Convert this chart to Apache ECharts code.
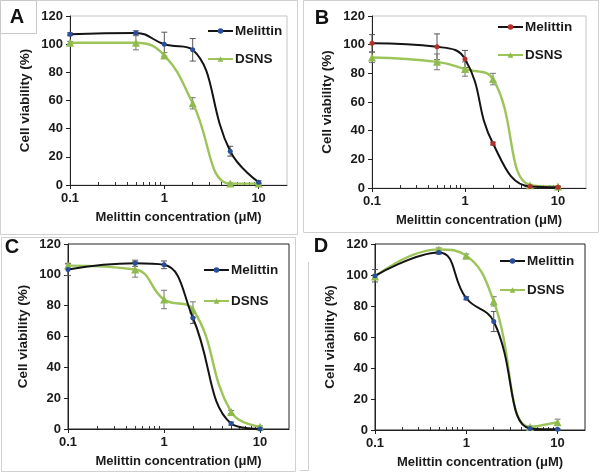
<!DOCTYPE html>
<html>
<head>
<meta charset="utf-8">
<script src="https://cdn.jsdelivr.net/npm/echarts@6/dist/echarts.min.js"></script>
<style>
html,body{margin:0;padding:0;background:#fff;}
#c{width:600px;height:476px;}
</style>
</head>
<body>
<div id="c"></div>
<script>
// ---- data ----
const conc = [0.1, 0.5, 1, 2, 5, 10];
const xTicks = [0.1, 1, 10];
const minorTicks = [0.2, 0.3, 0.4, 0.5, 0.6, 0.7, 0.8, 0.9, 2, 3, 4, 5, 6, 7, 8, 9];
const yTicks = [0, 20, 40, 60, 80, 100, 120];

const A_mel = [107, 108, 100, 96, 24, 2];
const A_melErr = [1, 1.5, 8.5, 8, 3.5, 1];
const A_dsns = [101, 101, 92, 58, 1, 1];
const A_dsnsErr = [1, 5, 2, 4, 0.5, 0.5];

const B_mel = [101, 98.5, 90, 31, 1, 0.5];
const B_melErr = [6, 9, 6, 1, 0.5, 0.5];
const B_dsns = [91, 88, 83, 76, 2, 1];
const B_dsnsErr = [3.5, 5.5, 5, 4, 0.5, 0.5];

const C_mel = [103.5, 107.5, 106.5, 72, 3.5, 0];
const C_melErr = [4, 2, 2.5, 3.5, 1, 0];
const C_dsns = [106, 103.5, 84, 77.5, 11, 1.5];
const C_dsnsErr = [1, 5, 6, 5, 1, 0.5];

const D_mel = [99.5, 114.5, 85, 70, 1, 0.5];
const D_melErr = [4, 1, 1, 6.5, 0.5, 0.5];
const D_dsns = [99, 116.5, 112.5, 83, 2, 5];
const D_dsnsErr = [1, 1, 1, 3, 0.5, 2];

const seriesNames = ['Melittin', 'DSNS'];
const xTitle = 'Melittin concentration (\u03bcM)';
const yTitle = 'Cell viability (%)';

// ---- layout / style ----
const panels = [
  {id: 'A', mel: A_mel, melErr: A_melErr, dsns: A_dsns, dsnsErr: A_dsnsErr,
   grid: {left: 70, top: 16, width: 217, height: 169}, frame: '#c4c4c4', melMarker: '#2a4f9a',
   legend: {left: 207, top: 24, gap: 14}},
  {id: 'B', mel: B_mel, melErr: B_melErr, dsns: B_dsns, dsnsErr: B_dsnsErr,
   grid: {left: 372, top: 16, width: 214, height: 172}, frame: '#c4c4c4', melMarker: '#b8302a',
   legend: {left: 497, top: 20, gap: 14}},
  {id: 'C', mel: C_mel, melErr: C_melErr, dsns: C_dsns, dsnsErr: C_dsnsErr,
   grid: {left: 68, top: 244, width: 221, height: 185}, frame: '#222', melMarker: '#2a4f9a',
   legend: {left: 203, top: 263, gap: 17}},
  {id: 'D', mel: D_mel, melErr: D_melErr, dsns: D_dsns, dsnsErr: D_dsnsErr,
   grid: {left: 375, top: 244, width: 210, height: 186}, frame: '#222', melMarker: '#2a4f9a',
   legend: {left: 499, top: 254, gap: 15}}
];

const FONT = 'Liberation Sans, Arial, sans-serif';
const TXT = '#1a1a1a';
const GREEN = '#9cc45a';
const GREEN_M = '#8fbb4c';

const grids = [], xAxes = [], yAxes = [], series = [], legends = [];

function errSeries(xi, yi, vals, errs, color) {
  return {
    type: 'custom', xAxisIndex: xi, yAxisIndex: yi, silent: true, z: 1,
    data: conc.map((c, i) => [c, vals[i] - errs[i], vals[i] + errs[i]]),
    renderItem: function (params, api) {
      const lo = api.coord([api.value(0), api.value(1)]);
      const hi = api.coord([api.value(0), api.value(2)]);
      const w = 3;
      const st = {stroke: color, lineWidth: 1};
      return {type: 'group', children: [
        {type: 'line', shape: {x1: lo[0], y1: lo[1], x2: hi[0], y2: hi[1]}, style: st},
        {type: 'line', shape: {x1: lo[0] - w, y1: lo[1], x2: lo[0] + w, y2: lo[1]}, style: st},
        {type: 'line', shape: {x1: hi[0] - w, y1: hi[1], x2: hi[0] + w, y2: hi[1]}, style: st}
      ]};
    }
  };
}

panels.forEach((p, k) => {
  grids.push(Object.assign({show: true, borderColor: p.frame, borderWidth: 1, backgroundColor: 'transparent'}, p.grid));
  const xMain = xAxes.length;
  xAxes.push({
    type: 'log', logBase: 10, gridIndex: k, min: 0.1, max: 20, position: 'bottom',
    name: xTitle, nameLocation: 'middle', nameGap: 26,
    nameTextStyle: {fontFamily: FONT, fontWeight: 'bold', fontSize: 13, color: TXT},
    axisLine: {show: true, onZero: false, lineStyle: {color: '#222', width: 1}},
    axisTick: {show: true, inside: false, length: 4, customValues: xTicks, lineStyle: {color: '#222'}},
    axisLabel: {show: true, customValues: xTicks, margin: 7, fontFamily: FONT, fontWeight: 'bold', fontSize: 13, color: TXT,
      formatter: v => String(Math.round(v * 10) / 10)},
    splitLine: {show: false}
  });
  // minor ticks axis (decorative)
  xAxes.push({
    type: 'log', logBase: 10, gridIndex: k, min: 0.1, max: 20, position: 'bottom',
    axisLine: {show: false},
    axisTick: {show: true, inside: true, length: 3, customValues: minorTicks, lineStyle: {color: '#333'}},
    axisLabel: {show: false}, splitLine: {show: false}
  });
  const yMain = yAxes.length;
  yAxes.push({
    type: 'value', gridIndex: k, min: 0, max: 120, interval: 20,
    name: yTitle, nameLocation: 'middle', nameGap: 38,
    nameTextStyle: {fontFamily: FONT, fontWeight: 'bold', fontSize: 13.5, color: TXT},
    axisLine: {show: true, lineStyle: {color: '#222', width: 1}},
    axisTick: {show: true, inside: false, length: 4, lineStyle: {color: '#222'}},
    axisLabel: {show: true, margin: 7, fontFamily: FONT, fontWeight: 'bold', fontSize: 13, color: TXT,
      customValues: yTicks},
    splitLine: {show: false}
  });
  const nMel = p.id + '|' + seriesNames[0];
  const nDs = p.id + '|' + seriesNames[1];
  series.push(errSeries(xMain, yMain, p.mel, p.melErr, '#555'));
  series.push(errSeries(xMain, yMain, p.dsns, p.dsnsErr, '#777'));
  series.push({
    name: nDs, type: 'line', xAxisIndex: xMain, yAxisIndex: yMain, smooth: 0.45,
    data: conc.map((c, i) => [c, p.dsns[i]]),
    symbol: 'triangle', symbolSize: 8, z: 3,
    lineStyle: {color: GREEN, width: 2.4}, itemStyle: {color: GREEN_M}
  });
  series.push({
    name: nMel, type: 'line', xAxisIndex: xMain, yAxisIndex: yMain, smooth: 0.45,
    data: conc.map((c, i) => [c, p.mel[i]]),
    symbol: 'circle', symbolSize: 5, z: 4,
    lineStyle: {color: '#141414', width: 2}, itemStyle: {color: p.melMarker}
  });
  legends.push({
    data: [nMel, nDs], orient: 'vertical', left: p.legend.left, top: p.legend.top,
    itemGap: p.legend.gap, itemWidth: 25, itemHeight: 7, padding: 0, selectedMode: false,
    formatter: n => n.split('|')[1],
    textStyle: {fontFamily: FONT, fontWeight: 'bold', fontSize: 13.5, color: TXT, padding: [0, 0, 0, -3]}
  });
});

const labels = [
  {t: 'A', box: [0, 0, 36, 33], x: 17, y: 17},
  {t: 'B', x: 322, y: 18},
  {t: 'C', x: 12, y: 247},
  {t: 'D', x: 321, y: 246}
];
const frameStyle = {fill: 'none', stroke: '#d0d0d0', lineWidth: 1};
const graphics = [
  {type: 'rect', shape: {x: 0.5, y: 0.5, width: 297, height: 234}, style: frameStyle, z: -1},
  {type: 'rect', shape: {x: 303.5, y: 0.5, width: 295, height: 232}, style: frameStyle, z: -1},
  {type: 'rect', shape: {x: 1.5, y: 237.5, width: 294, height: 234}, style: frameStyle, z: -1},
  {type: 'polyline', shape: {points: [[308.5, 262], [308.5, 470.5], [300, 470.5]]}, style: frameStyle, z: -1}
];
labels.forEach(l => {
  if (l.box) {
    graphics.push({type: 'rect', shape: {x: l.box[0] + 0.5, y: l.box[1] + 0.5, width: l.box[2], height: l.box[3]},
      style: {fill: '#fff', stroke: '#c8c8c8', lineWidth: 1}, z: 5});
  }
  graphics.push({type: 'text', x: l.x, y: l.y, z: 6,
    style: {text: l.t, fontFamily: FONT, fontWeight: 'bold', fontSize: 20, fill: '#111', align: 'center', verticalAlign: 'middle'}});
});

const chart = echarts.init(document.getElementById('c'), null, {renderer: 'canvas'});
chart.setOption({
  animation: false,
  backgroundColor: '#fff',
  grid: grids, xAxis: xAxes, yAxis: yAxes, series: series, legend: legends,
  graphic: graphics
});
</script>
</body>
</html>
